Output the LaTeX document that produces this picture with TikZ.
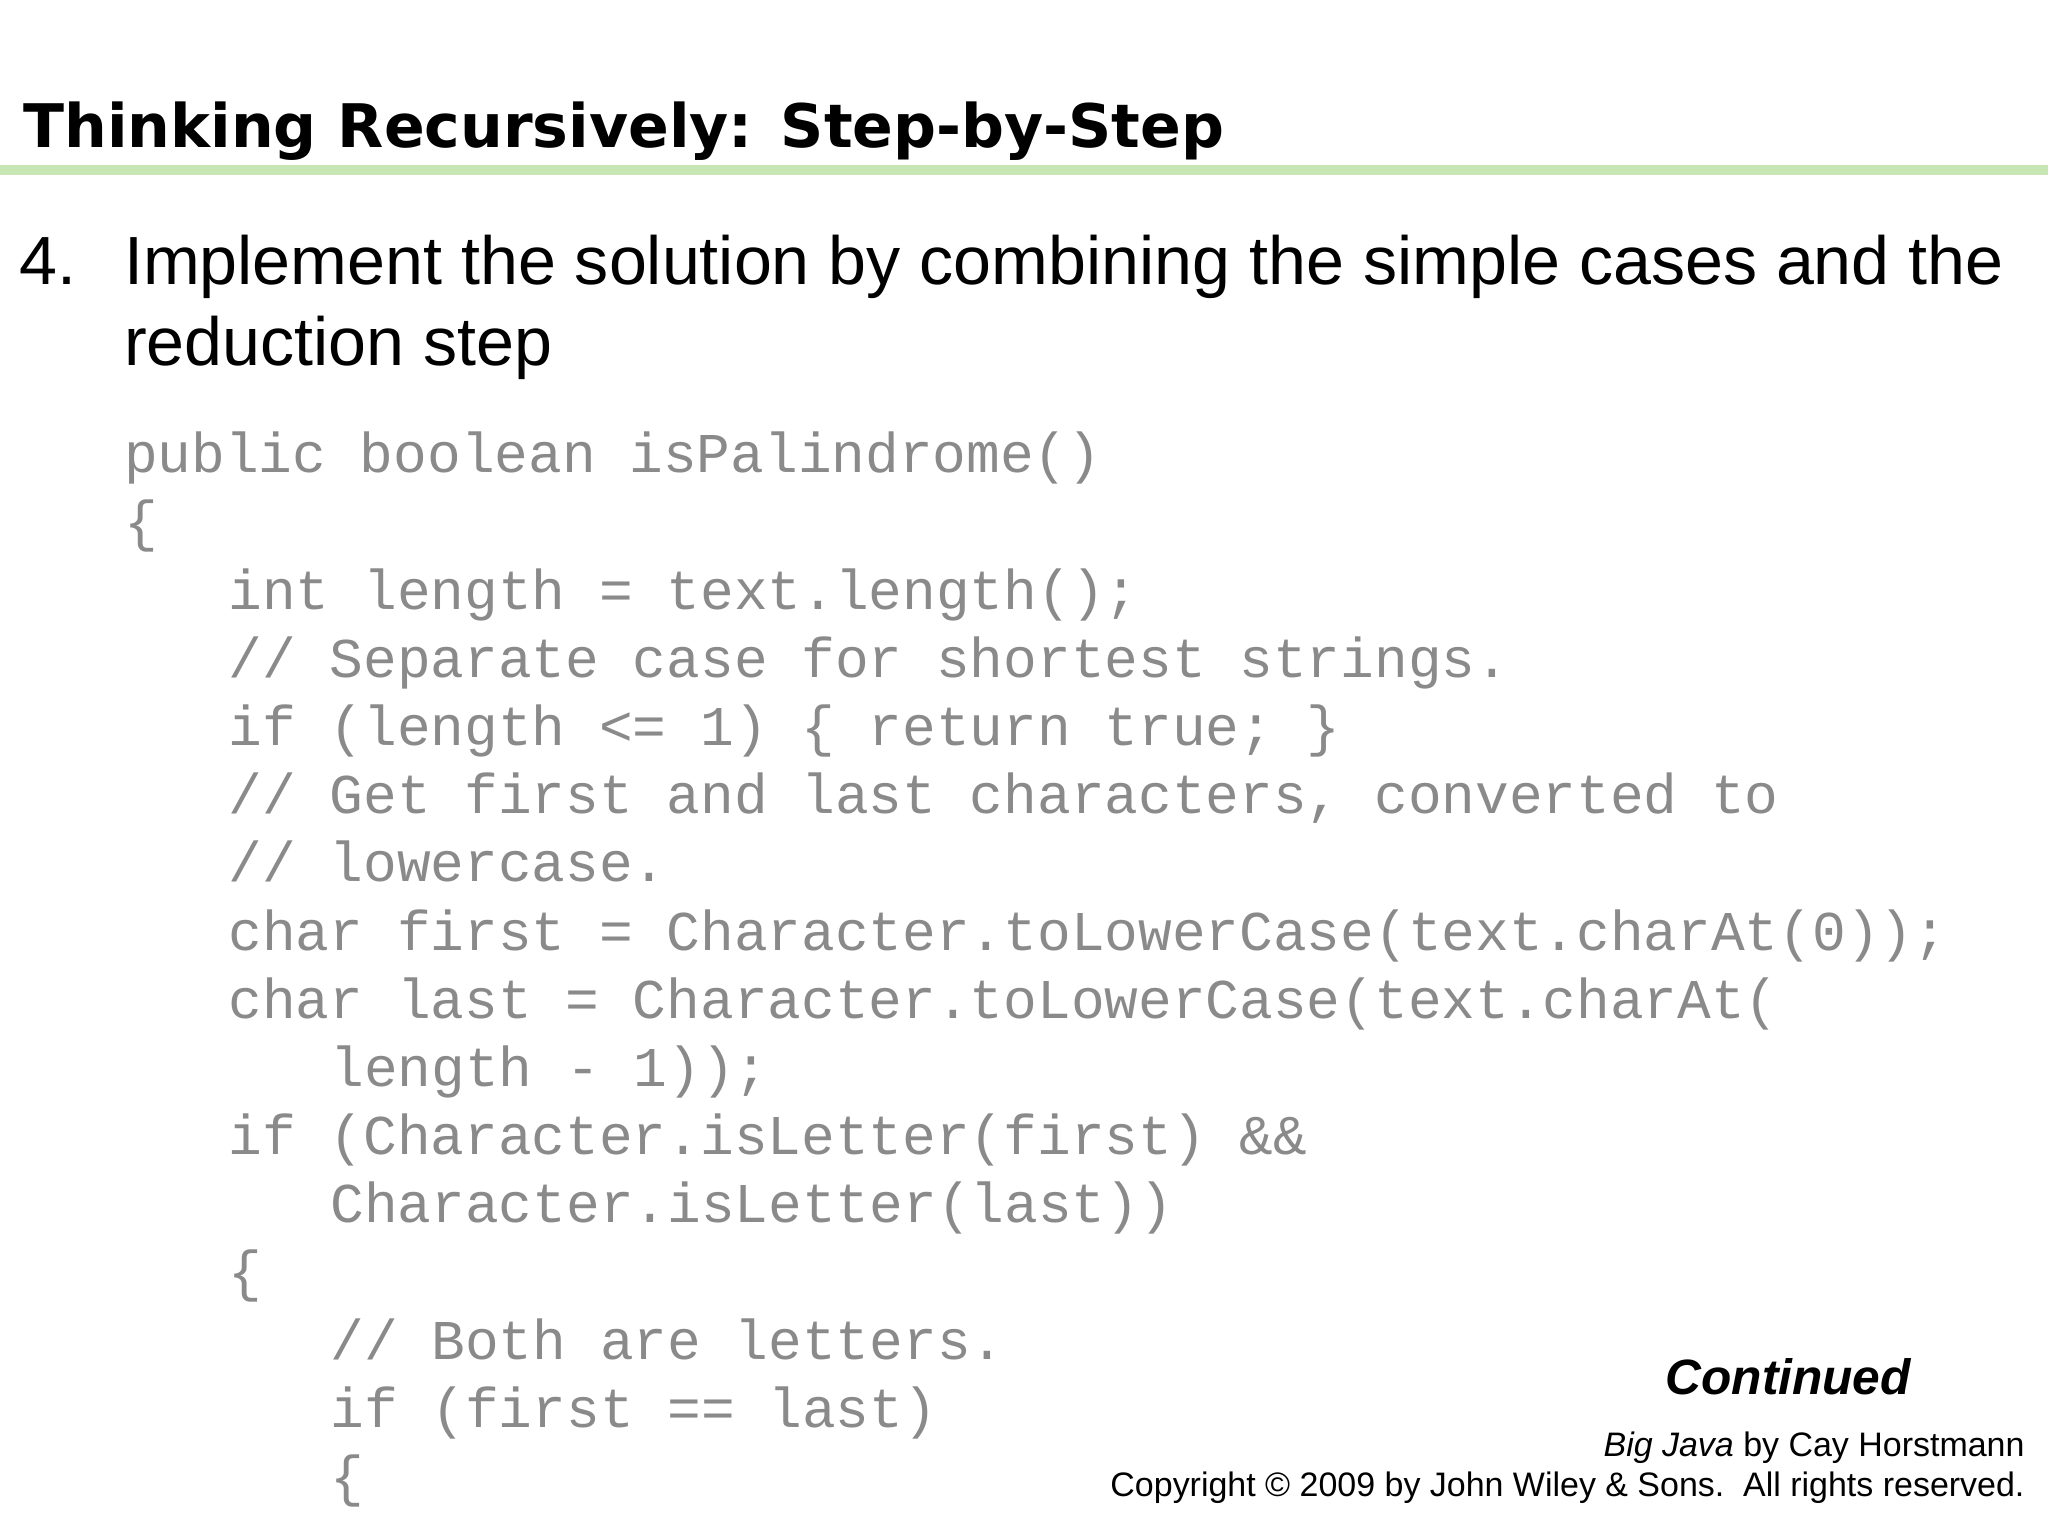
\documentclass[tikz,border=0pt]{standalone}
\usepackage{fontspec}
\setmainfont{Liberation Sans}
\newfontfamily\titlefont{DejaVu Sans}
\newfontfamily\codefont{Liberation Mono}
\definecolor{codegray}{HTML}{8A8A8A}
\definecolor{rulegreen}{HTML}{C8E6B4}
\begin{document}
\begin{tikzpicture}[x=0.5pt,y=-0.5pt,
  every node/.style={inner sep=0pt,outer sep=0pt},
  code/.style={anchor=base west,font=\codefont\fontsize{21.5}{24}\selectfont,text=codegray},
  body/.style={anchor=base west,font=\fontsize{26.1}{30}\selectfont}]
\useasboundingbox (0,0) rectangle (1568,1176);
\fill[white] (0,0) rectangle (1568,1176);
\node[anchor=base west,font=\titlefont\bfseries\fontsize{23}{28}\selectfont] (title) at (18,113) {Thinking Recursively: Step-by-Step};
\fill[rulegreen] (0,126) rectangle (1568,134);
\node[body] (num) at (15,218) {4.};
\node[body] (l1) at (95,218) {Implement the solution by combining the simple cases and the};
\node[body] (l2) at (95,280) {reduction step};
\node[code] (c0) at (95,{362}) {public boolean isPalindrome()};
\node[code] (c1) at (95,{362+1*52.2}) {\{};
\node[code] (c2) at (175,{362+2*52.2}) {int length = text.length();};
\node[code] (c3) at (175,{362+3*52.2}) {// Separate case for shortest strings.};
\node[code] (c4) at (175,{362+4*52.2}) {if (length <= 1) \{ return true; \}};
\node[code] (c5) at (175,{362+5*52.2}) {// Get first and last characters, converted to};
\node[code] (c6) at (175,{362+6*52.2}) {// lowercase.};
\node[code] (c7) at (175,{362+7*52.2}) {char first = Character.toLowerCase(text.charAt(0));};
\node[code] (c8) at (175,{362+8*52.2}) {char last = Character.toLowerCase(text.charAt(};
\node[code] (c9) at (253,{362+9*52.2}) {length - 1));};
\node[code] (c10) at (175,{362+10*52.2}) {if (Character.isLetter(first) \&\&};
\node[code] (c11) at (253,{362+11*52.2}) {Character.isLetter(last))};
\node[code] (c12) at (175,{362+12*52.2}) {\{};
\node[code] (c13) at (253,{362+13*52.2}) {// Both are letters.};
\node[code] (c14) at (253,{362+14*52.2}) {if (first == last)};
\node[code] (c15) at (253,{362+15*52.2}) {\{};
\node[anchor=base east,font=\bfseries\itshape\fontsize{19}{22}\selectfont] (cont) at (1463,1068) {Continued};
\node[anchor=base east,font=\fontsize{13}{15}\selectfont] (big) at (1550,1115) {\textit{Big Java} by Cay Horstmann};
\node[anchor=base east,font=\fontsize{13}{15}\selectfont] (copy) at (1550,1146) {Copyright © 2009 by John Wiley \& Sons.\ \ All rights reserved.};
\end{tikzpicture}
\end{document}
